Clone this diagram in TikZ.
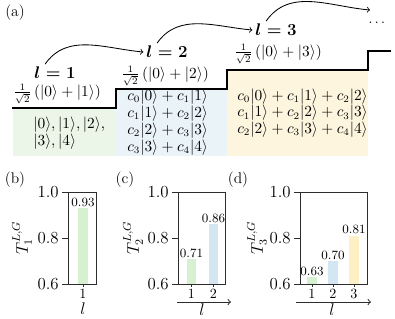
\documentclass[tikz,border=0pt]{standalone}
\usepackage{xcolor}
\usepackage{tikz}
\usepackage{amsmath}
\usetikzlibrary{arrows, positioning, calc}
\definecolor{levelgreen}{RGB}{236, 246, 232}
\definecolor{levelblue}{RGB}{234, 243, 248}
\definecolor{levelyellow}{RGB}{253, 245, 221}
\definecolor{bargreen}{RGB}{214, 240, 208}
\definecolor{barblue}{RGB}{210, 231, 241}
\definecolor{baryellow}{RGB}{254, 240, 196}
\definecolor{framegray}{RGB}{45, 45, 45}

\tikzset{
    stepline/.style={line width=1.4pt, black},
    hop/.style={->, semithick, black},
    levellabel/.style={font=\fontsize{12}{12}\selectfont\boldmath, inner sep=0pt},
    statelabel/.style={font=\fontsize{10.5}{10.5}\selectfont, inner sep=0pt},
    basislabel/.style={font=\fontsize{10.5}{10.5}\selectfont, align=left, anchor=west, inner sep=0pt},
    panellabel/.style={font=\fontsize{11}{11}\selectfont},
    barframe/.style={draw=framegray, line width=0.7pt},
    ticklabel/.style={font=\fontsize{12}{12}\selectfont, anchor=east, inner sep=2pt},
    valuelabel/.style={font=\fontsize{9}{9}\selectfont, anchor=south, inner sep=1pt},
    xticklabel/.style={font=\fontsize{10}{10}\selectfont},
    axislabel/.style={font=\fontsize{12}{12}\selectfont, inner sep=1pt}
}

\begin{document}
\begin{tikzpicture}[x=0.025cm, y=-0.025cm]
    \useasboundingbox (0,0) rectangle (395,318);

    % Level regions
    \fill[levelgreen] (13,108) rectangle (116,156);
    \fill[levelblue] (116,89) rectangle (227,156);
    \fill[levelyellow] (227,70) rectangle (368,156);

    % Staircase
    \draw[stepline] (12,108) -- (116,108) -- (116,89) -- (227,89) -- (227,70) -- (368,70) -- (368,51) -- (391,51);

    % Labels
    \node[panellabel] (pa) at (15,13) {(a)};
    \node[levellabel] (l1) at (55,73) {$l=1$};
    \node[levellabel] (l2) at (167,52) {$l=2$};
    \node[levellabel] (l3) at (276,30) {$l=3$};
    \node (more) at (378,23) {$\dots$};
    \coordinate (next) at (370,10);

    \node[statelabel] (s1) at (57,94) {$\frac{1}{\sqrt{2}}\,(|0\rangle+|1\rangle)$};
    \node[statelabel] (s2) at (165,76) {$\frac{1}{\sqrt{2}}\,(|0\rangle+|2\rangle)$};
    \node[statelabel] (s3) at (278,54) {$\frac{1}{\sqrt{2}}\,(|0\rangle+|3\rangle)$};

    \node[basislabel] (b1) at (33,133) {$|0\rangle,|1\rangle,|2\rangle,$\\$|3\rangle,|4\rangle$};
    \node[basislabel] (b2) at (127,122) {$c_0|0\rangle+c_1|1\rangle$\\$c_1|1\rangle+c_2|2\rangle$\\$c_2|2\rangle+c_3|3\rangle$\\$c_3|3\rangle+c_4|4\rangle$};
    \node[basislabel] (b3) at (237,113) {$c_0|0\rangle+c_1|1\rangle+c_2|2\rangle$\\$c_1|1\rangle+c_2|2\rangle+c_3|3\rangle$\\$c_2|2\rangle+c_3|3\rangle+c_4|4\rangle$};

    % Hops between levels
    \draw[hop] ([xshift=-7pt,yshift=2pt]l1.north) to[out=55, in=175] ([xshift=-2pt]l2.west);
    \draw[hop] ([xshift=-7pt,yshift=2pt]l2.north) to[out=55, in=175] ([xshift=-2pt]l3.west);
    \draw[hop] ([xshift=-7pt,yshift=2pt]l3.north) to[out=55, in=175] (next);

    % Panel (b)
    \node[panellabel] (pb) at (15,180) {(b)};
    \fill[bargreen] (78,284) rectangle (88,208.1);
    \draw[barframe] (68,192) rectangle (96,284);
    \foreach \yy/\tl in {284/0.6, 238/0.8, 192/1.0}
        \draw[barframe] (68,\yy) -- (62,\yy) node[ticklabel] {\tl};
    \draw[barframe] (83,284) -- (83,287);
    \node[valuelabel] (vb1) at (83,208) {0.93};
    \node[xticklabel] (xb1) at (83,294) {1};
    \node[axislabel] (xlb) at (83,309) {$l$};
    \node[axislabel, rotate=90] (ylb) at (22,238) {$T^{L,G}_1$};

    % Panel (c)
    \node[panellabel] (pc) at (125,180) {(c)};
    \fill[bargreen] (187,284) rectangle (196,259.4);
    \fill[barblue] (209,284) rectangle (218,224.2);
    \draw[barframe] (178,192) rectangle (225,284);
    \foreach \yy/\tl in {284/0.6, 238/0.8, 192/1.0}
        \draw[barframe] (178,\yy) -- (172,\yy) node[ticklabel] {\tl};
    \foreach \xx in {191.5, 213.5}
        \draw[barframe] (\xx,284) -- (\xx,287);
    \node[valuelabel] (vc1) at (191.5,259) {0.71};
    \node[valuelabel] (vc2) at (213.5,224) {0.86};
    \node[xticklabel] (xc1) at (191.5,294) {1};
    \node[xticklabel] (xc2) at (213.5,294) {2};
    \coordinate (cstart) at (177,302);
    \coordinate (cend) at (231,302);
    \draw[barframe, ->] (cstart) -- (cend);
    \node[axislabel] (xlc) at (202,309.5) {$l$};
    \node[axislabel, rotate=90] (ylc) at (133,238) {$T^{L,G}_2$};

    % Panel (d)
    \node[panellabel] (pd) at (238,180) {(d)};
    \fill[bargreen] (307,284) rectangle (317,277.1);
    \fill[barblue] (328,284) rectangle (338,261);
    \fill[baryellow] (349,284) rectangle (359,235.7);
    \draw[barframe] (300,192) rectangle (367,284);
    \foreach \yy/\tl in {284/0.6, 238/0.8, 192/1.0}
        \draw[barframe] (300,\yy) -- (294,\yy) node[ticklabel] {\tl};
    \foreach \xx in {312, 333, 354}
        \draw[barframe] (\xx,284) -- (\xx,287);
    \node[valuelabel] (vd1) at (312,277) {0.63};
    \node[valuelabel] (vd2) at (333,261) {0.70};
    \node[valuelabel] (vd3) at (354,235.5) {0.81};
    \node[xticklabel] (xd1) at (312,294) {1};
    \node[xticklabel] (xd2) at (333,294) {2};
    \node[xticklabel] (xd3) at (354,294) {3};
    \coordinate (dstart) at (296,302);
    \coordinate (dend) at (371,302);
    \draw[barframe, ->] (dstart) -- (dend);
    \node[axislabel] (xld) at (332,309.5) {$l$};
    \node[axislabel, rotate=90] (yld) at (257,238) {$T^{L,G}_3$};
\end{tikzpicture}
\end{document}
